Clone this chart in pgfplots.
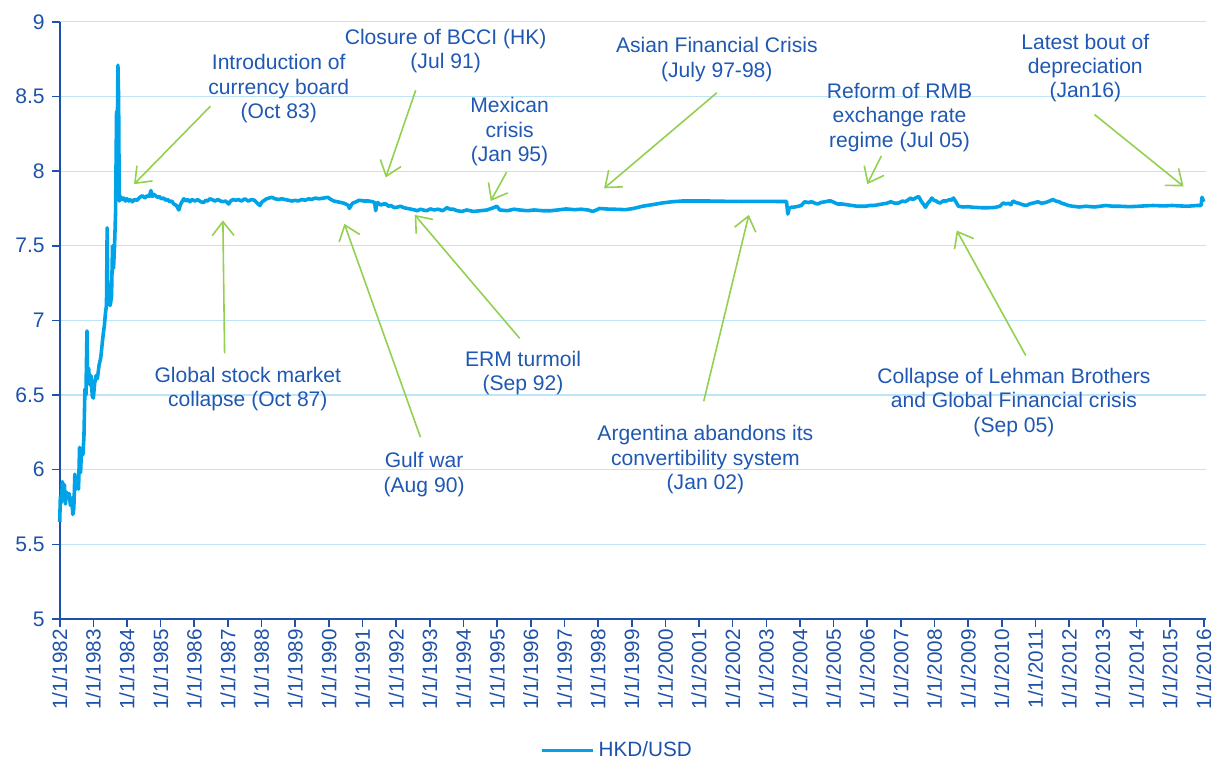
\documentclass[border=0pt]{standalone}
\usepackage{fontspec}
\setmainfont{Liberation Sans}
\usepackage{pgfplots}
\pgfplotsset{compat=1.18}
\usetikzlibrary{arrows.meta}

\definecolor{hkdline}{RGB}{0,162,232}
\definecolor{axisblue}{RGB}{30,82,170}
\definecolor{txtblue}{RGB}{31,88,178}
\definecolor{gridblue}{RGB}{190,228,248}
\definecolor{arrgreen}{RGB}{146,208,80}

\pgfplotstableread{
year value
1982.00 5.65
1982.02 5.82
1982.05 5.78
1982.08 5.92
1982.11 5.85
1982.14 5.90
1982.17 5.77
1982.20 5.85
1982.24 5.82
1982.28 5.84
1982.32 5.76
1982.36 5.81
1982.39 5.70
1982.42 5.74
1982.45 5.97
1982.49 5.87
1982.52 5.92
1982.56 5.87
1982.59 6.15
1982.62 5.98
1982.65 6.14
1982.69 6.10
1982.72 6.22
1982.75 6.54
1982.78 6.50
1982.81 6.93
1982.83 6.58
1982.86 6.68
1982.89 6.57
1982.93 6.63
1982.97 6.49
1983.00 6.48
1983.04 6.58
1983.08 6.63
1983.12 6.61
1983.17 6.70
1983.22 6.75
1983.27 6.86
1983.30 6.92
1983.33 6.97
1983.36 7.05
1983.39 7.10
1983.41 7.62
1983.43 7.20
1983.46 7.12
1983.50 7.10
1983.54 7.16
1983.57 7.50
1983.60 7.35
1983.63 7.50
1983.66 7.72
1983.69 8.40
1983.71 8.20
1983.73 8.71
1983.75 8.50
1983.77 7.80
1983.81 7.83
1983.85 7.81
1983.90 7.82
1983.95 7.80
1984.00 7.815
1984.05 7.80
1984.10 7.81
1984.16 7.795
1984.23 7.81
1984.30 7.805
1984.38 7.825
1984.46 7.835
1984.53 7.82
1984.60 7.835
1984.66 7.83
1984.71 7.87
1984.75 7.83
1984.80 7.845
1984.90 7.825
1984.96 7.83
1985.02 7.815
1985.09 7.82
1985.15 7.805
1985.21 7.81
1985.27 7.795
1985.33 7.80
1985.39 7.78
1985.47 7.77
1985.54 7.74
1985.58 7.77
1985.62 7.79
1985.69 7.815
1985.75 7.80
1985.80 7.81
1985.87 7.795
1985.93 7.81
1986.02 7.80
1986.10 7.81
1986.19 7.795
1986.28 7.79
1986.34 7.805
1986.40 7.80
1986.46 7.815
1986.52 7.81
1986.61 7.80
1986.70 7.81
1986.78 7.80
1986.85 7.795
1986.93 7.80
1987.02 7.78
1987.08 7.80
1987.15 7.81
1987.23 7.805
1987.31 7.81
1987.40 7.80
1987.50 7.815
1987.60 7.80
1987.71 7.81
1987.79 7.805
1987.85 7.79
1987.95 7.77
1988.00 7.79
1988.05 7.80
1988.15 7.815
1988.30 7.825
1988.40 7.815
1988.50 7.81
1988.60 7.815
1988.69 7.81
1988.80 7.805
1988.90 7.80
1989.00 7.805
1989.08 7.80
1989.20 7.81
1989.30 7.805
1989.40 7.815
1989.48 7.81
1989.60 7.82
1989.70 7.815
1989.85 7.82
1989.97 7.825
1990.06 7.81
1990.15 7.80
1990.25 7.795
1990.36 7.79
1990.45 7.785
1990.50 7.78
1990.58 7.77
1990.61 7.75
1990.66 7.77
1990.70 7.785
1990.76 7.79
1990.90 7.805
1991.05 7.80
1991.18 7.80
1991.30 7.795
1991.36 7.79
1991.39 7.735
1991.42 7.775
1991.45 7.79
1991.54 7.773
1991.62 7.78
1991.70 7.78
1991.77 7.765
1991.84 7.77
1991.95 7.755
1992.05 7.76
1992.13 7.765
1992.23 7.755
1992.34 7.75
1992.45 7.745
1992.55 7.74
1992.63 7.735
1992.72 7.745
1992.80 7.74
1992.90 7.735
1993.02 7.747
1993.12 7.74
1993.25 7.745
1993.38 7.735
1993.51 7.755
1993.60 7.745
1993.70 7.745
1993.81 7.735
1993.95 7.73
1994.10 7.74
1994.30 7.73
1994.50 7.735
1994.70 7.74
1994.89 7.755
1994.99 7.765
1995.08 7.74
1995.30 7.735
1995.50 7.745
1995.67 7.74
1995.90 7.735
1996.10 7.74
1996.36 7.735
1996.60 7.735
1996.80 7.74
1997.05 7.747
1997.30 7.742
1997.50 7.745
1997.70 7.74
1997.84 7.73
1997.93 7.738
1998.04 7.75
1998.30 7.746
1998.60 7.744
1998.82 7.742
1999.05 7.75
1999.32 7.765
1999.60 7.775
1999.91 7.787
2000.20 7.795
2000.50 7.80
2000.90 7.80
2001.28 7.80
2001.80 7.798
2002.27 7.797
2002.80 7.798
2003.30 7.797
2003.60 7.797
2003.64 7.713
2003.68 7.75
2003.74 7.758
2003.85 7.76
2003.95 7.765
2004.04 7.77
2004.14 7.795
2004.25 7.79
2004.35 7.795
2004.45 7.785
2004.53 7.78
2004.62 7.79
2004.75 7.795
2004.85 7.80
2004.92 7.80
2005.02 7.79
2005.12 7.78
2005.25 7.78
2005.40 7.775
2005.55 7.77
2005.71 7.765
2005.85 7.765
2005.95 7.765
2006.08 7.77
2006.20 7.77
2006.32 7.775
2006.45 7.78
2006.58 7.785
2006.70 7.795
2006.82 7.785
2006.94 7.787
2007.05 7.80
2007.12 7.795
2007.20 7.805
2007.29 7.82
2007.35 7.81
2007.40 7.815
2007.47 7.825
2007.53 7.83
2007.60 7.80
2007.68 7.775
2007.73 7.758
2007.80 7.785
2007.86 7.80
2007.92 7.82
2007.98 7.805
2008.05 7.80
2008.11 7.79
2008.17 7.787
2008.25 7.80
2008.35 7.80
2008.45 7.81
2008.50 7.805
2008.56 7.82
2008.62 7.80
2008.71 7.765
2008.85 7.76
2009.00 7.762
2009.15 7.758
2009.40 7.755
2009.60 7.755
2009.80 7.757
2009.94 7.765
2010.04 7.787
2010.12 7.78
2010.20 7.785
2010.27 7.775
2010.33 7.80
2010.42 7.79
2010.50 7.785
2010.62 7.775
2010.73 7.77
2010.82 7.78
2010.90 7.785
2011.00 7.79
2011.07 7.795
2011.18 7.785
2011.30 7.79
2011.42 7.80
2011.52 7.81
2011.60 7.80
2011.70 7.795
2011.78 7.785
2011.86 7.78
2011.98 7.77
2012.10 7.765
2012.30 7.76
2012.50 7.765
2012.75 7.76
2013.09 7.77
2013.30 7.765
2013.50 7.765
2013.80 7.762
2014.07 7.765
2014.30 7.768
2014.50 7.77
2014.80 7.767
2015.06 7.77
2015.30 7.767
2015.50 7.765
2015.70 7.768
2015.80 7.77
2015.92 7.77
2015.95 7.825
2016.00 7.795
}\hkd

\begin{document}
\begin{tikzpicture}
\begin{axis}[
    at={(0,0)}, anchor=south west,
    scale only axis,
    width=576pt, height=300pt,
    xmin=1982, xmax=2016.07,
    ymin=5, ymax=9,
    axis x line=bottom, axis y line=left,
    axis line style={axisblue, line width=1pt, -},
    xtick={1982,1983,...,2016},
    xticklabels={1/1/1982,1/1/1983,1/1/1984,1/1/1985,1/1/1986,1/1/1987,1/1/1988,1/1/1989,1/1/1990,1/1/1991,1/1/1992,1/1/1993,1/1/1994,1/1/1995,1/1/1996,1/1/1997,1/1/1998,1/1/1999,1/1/2000,1/1/2001,1/1/2002,1/1/2003,1/1/2004,1/1/2005,1/1/2006,1/1/2007,1/1/2008,1/1/2009,1/1/2010,1/1/2011,1/1/2012,1/1/2013,1/1/2014,1/1/2015,1/1/2016},
    ytick={5,5.5,...,9},
    /pgf/number format/assume math mode=true,
    tick align=outside,
    major tick length=4pt,
    tick style={axisblue, line width=0.8pt},
    x tick label style={rotate=90, anchor=east, font=\fontsize{10.4}{12}\selectfont, text=axisblue, inner sep=1pt},
    y tick label style={font=\fontsize{10.6}{12}\selectfont, text=axisblue},
    ymajorgrids=true,
    grid style={gridblue, line width=0.6pt},
    clip=false,
    legend style={at={(0.487,-0.22)}, anchor=center, draw=none, fill=none,
        font=\fontsize{10.4}{12}\selectfont, text=axisblue},
    legend image code/.code={\draw[#1, line width=1.4pt] (0pt,0pt) -- (26pt,0pt);},
]
\addplot[hkdline, line width=1.8pt, line join=round] table[x=year, y=value] {\hkd};
\addlegendentry{HKD/USD}

\tikzset{ann/.style={arrgreen, line width=0.8pt, -{Straight Barb[length=7pt,width=11pt]}},
         lab/.style={align=center, font=\fontsize{10.6}{12.25}\selectfont, text=txtblue}}
% annotations
\node[lab] at (1988.51,8.553) {Introduction of\\currency board\\(Oct 83)};
\draw[ann] (1986.48,8.435) -- (1984.21,7.913);
\node[lab] at (1993.47,8.803) {Closure of BCCI (HK)\\(Jul 91)};
\draw[ann] (1992.58,8.542) -- (1991.69,7.958);
\node[lab] at (1995.37,8.263) {Mexican\\crisis\\(Jan 95)};
\draw[ann] (1995.28,7.993) -- (1994.81,7.80);
\node[lab] at (2001.53,8.749) {Asian Financial Crisis\\(July 97-98)};
\draw[ann] (2001.53,8.525) -- (1998.18,7.885);
\node[lab] at (2006.96,8.361) {Reform of RMB\\exchange rate\\regime (Jul 05)};
\draw[ann] (2006.42,8.102) -- (2006.0,7.913);
\node[lab] at (2012.48,8.691) {Latest bout of\\depreciation\\(Jan16)};
\draw[ann] (2012.75,8.38) -- (2015.40,7.898);
\node[lab] at (1987.59,6.541) {Global stock market\\collapse (Oct 87)};
\draw[ann] (1986.9,6.78) -- (1986.85,7.67);
\node[lab] at (1992.83,5.967) {Gulf war\\(Aug 90)};
\draw[ann] (1992.72,6.218) -- (1990.46,7.647);
\node[lab] at (1995.77,6.647) {ERM turmoil\\(Sep 92)};
\draw[ann] (1995.67,6.88) -- (1992.55,7.707);
\node[lab] at (2001.19,6.067) {Argentina abandons its\\convertibility system\\(Jan 02)};
\draw[ann] (2001.14,6.458) -- (2002.48,7.707);
\node[lab] at (2010.36,6.451) {Collapse of Lehman Brothers\\and Global Financial crisis\\(Sep 05)};
\draw[ann] (2010.71,6.765) -- (2008.66,7.602);
\end{axis}
\pgfresetboundingbox
\path[use as bounding box] (-30pt,-70pt) rectangle (582pt,311pt);
\end{tikzpicture}
\end{document}
